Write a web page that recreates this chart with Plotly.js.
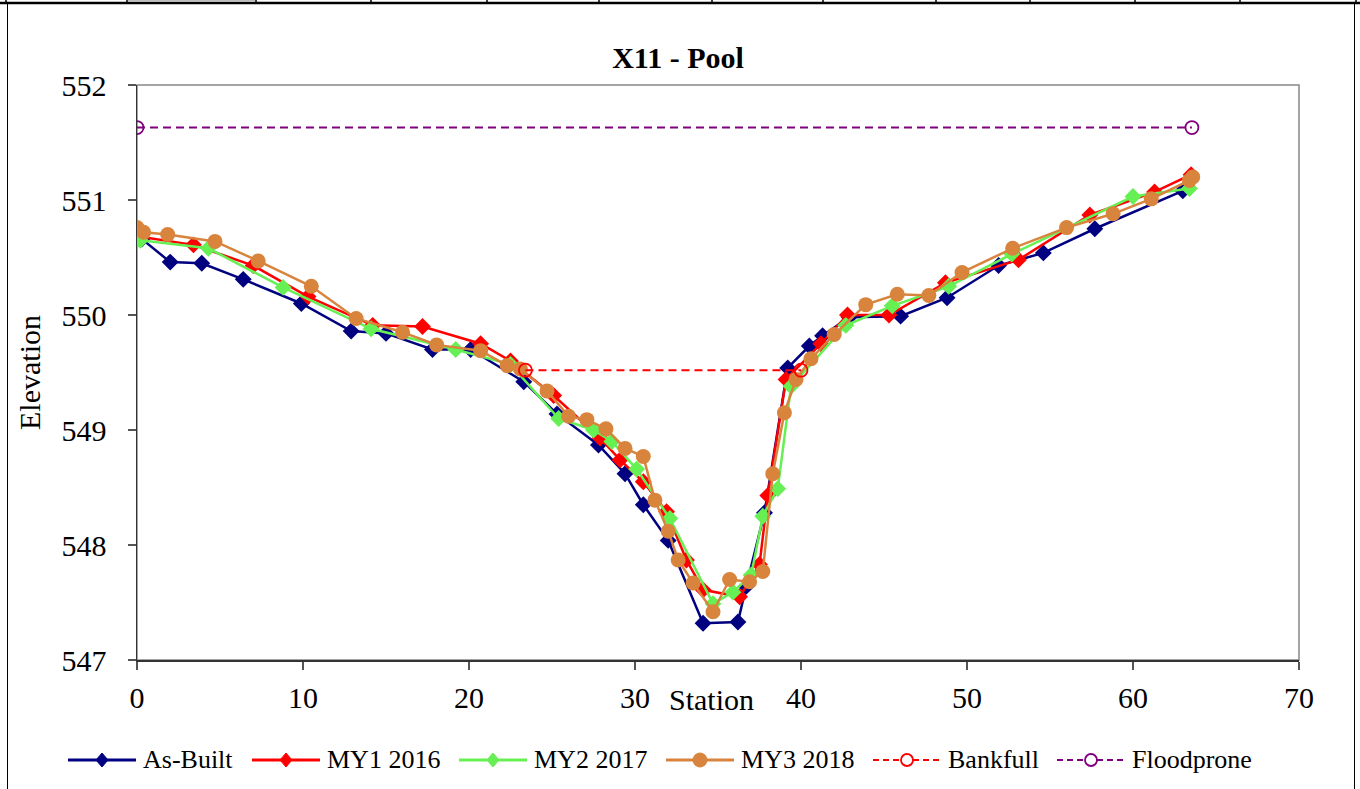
<!DOCTYPE html>
<html>
<head>
<meta charset="utf-8">
<script src="https://cdn.plot.ly/plotly-3.0.1.min.js"></script>
<style>
  html, body { margin: 0; padding: 0; background: #fff; }
  #wrap { position: relative; width: 1360px; height: 789px; overflow: hidden; background:#fff; }
  #chart { position: absolute; left: 0; top: 0; width: 1360px; height: 789px; }
</style>
</head>
<body>
<div id="wrap">
  <div id="chart"></div>
</div>
<script>
// Spreadsheet gridline positions along the top strip (decoration)
const cellDividers = [6, 127, 256, 371, 487, 599, 712, 823, 936, 1030, 1135, 1240, 1356];

// As-Built
const asBuiltX = [0.3, 2.0, 3.9, 6.4, 9.9, 12.9, 15.0, 17.8, 20.1, 23.3, 25.3, 27.8, 29.4, 30.5, 32.0, 34.1, 36.2, 36.7, 37.8, 39.2, 40.5, 41.3, 42.9, 46.0, 48.8, 51.9, 54.6, 57.7, 63.0];
const asBuiltY = [550.66, 550.46, 550.45, 550.31, 550.10, 549.86, 549.84, 549.70, 549.70, 549.42, 549.14, 548.87, 548.62, 548.35, 548.04, 547.32, 547.33, 547.64, 548.28, 549.54, 549.73, 549.82, 549.98, 549.99, 550.15, 550.43, 550.54, 550.75, 551.08];

// MY1 2016
const my1X = [0.2, 3.4, 7.0, 10.3, 14.2, 17.2, 20.7, 22.5, 25.1, 27.9, 29.1, 30.5, 31.9, 33.1, 34.1, 36.3, 37.5, 38.0, 39.1, 41.2, 42.8, 45.3, 48.7, 53.1, 57.4, 61.3, 63.5];
const my1Y = [550.68, 550.61, 550.43, 550.16, 549.91, 549.90, 549.75, 549.60, 549.30, 548.93, 548.74, 548.55, 548.29, 547.87, 547.61, 547.55, 547.83, 548.43, 549.44, 549.75, 550.00, 550.00, 550.28, 550.48, 550.87, 551.07, 551.22];

// MY2 2017
const my2X = [0.2, 4.3, 8.8, 14.1, 19.2, 22.5, 25.4, 27.5, 28.6, 30.1, 32.1, 34.7, 35.9, 37.0, 37.7, 38.6, 39.4, 42.7, 45.5, 48.9, 52.7, 60.0, 63.4];
const my2Y = [550.65, 550.58, 550.24, 549.88, 549.70, 549.57, 549.10, 549.00, 548.90, 548.66, 548.23, 547.49, 547.59, 547.74, 548.25, 548.49, 549.38, 549.91, 550.08, 550.25, 550.53, 551.03, 551.10];

// MY3 2018
const my3X = [0.0, 0.4, 1.85, 4.7, 7.3, 10.5, 13.2, 16.0, 18.05, 20.7, 22.3, 23.1, 24.7, 26.0, 27.1, 28.25, 29.4, 30.5, 31.2, 32.0, 32.6, 33.5, 34.7, 35.7, 36.9, 37.7, 38.3, 39.0, 39.7, 40.6, 42.0, 43.9, 45.8, 47.7, 49.7, 52.75, 56.0, 58.8, 61.1, 63.4, 63.6];
const my3Y = [550.76, 550.72, 550.70, 550.64, 550.47, 550.25, 549.97, 549.85, 549.74, 549.69, 549.56, 549.53, 549.34, 549.12, 549.09, 549.01, 548.84, 548.77, 548.39, 548.12, 547.87, 547.67, 547.42, 547.70, 547.68, 547.77, 548.62, 549.15, 549.44, 549.62, 549.83, 550.09, 550.18, 550.17, 550.37, 550.58, 550.76, 550.88, 551.01, 551.17, 551.20];

// Bankfull & Floodprone
const bankfullX = [23.4, 40.0];
const bankfullY = [549.52, 549.52];
const floodX = [0, 63.55];
const floodY = [551.63, 551.63];

// Axis ticks
const xTicks = [0, 10, 20, 30, 40, 50, 60, 70];
const yTicks = [547, 548, 549, 550, 551, 552];

// Series names
const seriesNames = ['As-Built', 'MY1 2016', 'MY2 2017', 'MY3 2018', 'Bankfull', 'Floodprone'];

const serif = "Liberation Serif, Times New Roman, serif";
const colors = ['#000080', '#FF0000', '#66F053', '#D8843C', '#FF0000', '#800080'];

// plot-area pixel geometry
const PL = 137, PR = 1299, PT = 85, PB = 660;
const px2x = px => (px - PL) / (PR - PL);
const px2y = py => (PB - py) / (PB - PT);

const traces = [
  {x: asBuiltX, y: asBuiltY, name: seriesNames[0], mode: 'lines+markers',
   line: {color: colors[0], width: 2.5}, marker: {symbol: 'diamond', size: 13, color: colors[0]}},
  {x: my1X, y: my1Y, name: seriesNames[1], mode: 'lines+markers',
   line: {color: colors[1], width: 2.5}, marker: {symbol: 'diamond', size: 13, color: colors[1]}},
  {x: my2X, y: my2Y, name: seriesNames[2], mode: 'lines+markers',
   line: {color: colors[2], width: 2.5}, marker: {symbol: 'diamond', size: 13, color: colors[2]}},
  {x: my3X, y: my3Y, name: seriesNames[3], mode: 'lines+markers',
   line: {color: colors[3], width: 2.5}, marker: {symbol: 'circle', size: 15, color: colors[3]}},
  {x: bankfullX, y: bankfullY, name: seriesNames[4], mode: 'lines+markers',
   line: {color: colors[4], width: 2, dash: '8px,5px'}, marker: {symbol: 'circle-open', size: 13, color: colors[4], line: {width: 1.8}}},
  {x: floodX, y: floodY, name: seriesNames[5], mode: 'lines+markers',
   line: {color: colors[5], width: 2, dash: '8px,5px'}, marker: {symbol: 'circle-open', size: 13, color: colors[5], line: {width: 1.8}}}
];

// ---- frame / decoration shapes (paper coords) ----
const shapes = [
  {type: 'rect', xref: 'paper', yref: 'paper', x0: 0, x1: 1, y0: 0, y1: 1, line: {color: '#888', width: 1.5}, layer: 'below'},
  {type: 'line', xref: 'paper', yref: 'paper', x0: px2x(0), x1: px2x(1360), y0: px2y(3), y1: px2y(3), line: {color: '#000', width: 2.5}},
  {type: 'rect', xref: 'paper', yref: 'paper', x0: px2x(128), x1: px2x(255), y0: px2y(0), y1: px2y(2), line: {width: 0}, fillcolor: '#bbb'},
  {type: 'line', xref: 'paper', yref: 'paper', x0: px2x(7.5), x1: px2x(7.5), y0: px2y(3), y1: px2y(789), line: {color: '#000', width: 1}},
  {type: 'line', xref: 'paper', yref: 'paper', x0: px2x(1354.5), x1: px2x(1354.5), y0: px2y(3), y1: px2y(789), line: {color: '#000', width: 1}}
];
cellDividers.forEach(d => shapes.push({type: 'line', xref: 'paper', yref: 'paper', x0: px2x(d), x1: px2x(d), y0: px2y(0), y1: px2y(4), line: {color: '#000', width: 1.5}}));

// ---- legend (drawn manually to match the original spacing) ----
const legendY = 760;
const legendLineStart = [68, 252, 459, 666, 873, 1057];
const legendLineLen = 68;
const annotations = [];
seriesNames.forEach((nm, i) => {
  const x0 = legendLineStart[i], x1 = x0 + legendLineLen, cx = (x0 + x1) / 2;
  const dashed = i >= 4;
  shapes.push({type: 'line', xref: 'paper', yref: 'paper', x0: px2x(x0), x1: px2x(x1), y0: px2y(legendY), y1: px2y(legendY),
               line: {color: colors[i], width: dashed ? 2 : 3, dash: dashed ? '6px,4px' : 'solid'}});
  const base = {xref: 'paper', yref: 'paper', xsizemode: 'pixel', ysizemode: 'pixel', xanchor: px2x(cx), yanchor: px2y(legendY)};
  if (i <= 2) {
    shapes.push(Object.assign({type: 'path', path: 'M0,7 L6,0 L0,-7 L-6,0 Z', fillcolor: colors[i], line: {color: colors[i], width: 1}}, base));
  } else if (i === 3) {
    shapes.push(Object.assign({type: 'circle', x0: -7, x1: 7, y0: -7, y1: 7, fillcolor: colors[i], line: {color: colors[i], width: 1}}, base));
  } else {
    shapes.push(Object.assign({type: 'circle', x0: -6, x1: 6, y0: -6, y1: 6, fillcolor: '#fff', line: {color: colors[i], width: 1.8}}, base));
  }
  annotations.push({text: nm, xref: 'paper', yref: 'paper', x: px2x(x1 + 6), y: px2y(legendY), xanchor: 'left', yanchor: 'middle',
                    showarrow: false, font: {family: serif, size: 26, color: '#000'}, borderpad: 0});
});
annotations.push({text: 'Station', xref: 'paper', yref: 'paper', x: px2x(711), y: px2y(699),
                  xanchor: 'center', yanchor: 'middle', showarrow: false, font: {family: serif, size: 30, color: '#000'}});

const layout = {
  width: 1360, height: 789,
  margin: {l: PL, r: 1360 - PR, t: PT, b: 789 - PB},
  paper_bgcolor: '#fff',
  plot_bgcolor: '#fff',
  font: {family: serif, color: '#000', size: 30},
  title: {text: '<b>X11 - Pool</b>', font: {family: serif, size: 30, color: '#000'},
          x: 678 / 1360, xref: 'container', xanchor: 'center', y: 1 - 57 / 789, yref: 'container', yanchor: 'middle'},
  xaxis: {range: [0, 70], tickvals: xTicks, ticktext: xTicks.map(String), showgrid: false, zeroline: false,
          showline: true, linecolor: '#333', linewidth: 1.5, ticks: 'outside', ticklen: 8, tickcolor: '#555', tickwidth: 1.2,
          ticklabelstandoff: 2, tickfont: {family: serif, size: 30}, fixedrange: true},
  yaxis: {range: [547, 552], tickvals: yTicks, ticktext: yTicks.map(String), showgrid: false, zeroline: false,
          showline: true, linecolor: '#333', linewidth: 1.5, ticks: 'outside', ticklen: 8, tickcolor: '#555', tickwidth: 1.2,
          ticklabelstandoff: 15, tickfont: {family: serif, size: 30},
          title: {text: 'Elevation', font: {family: serif, size: 30}, standoff: 12}, fixedrange: true},
  shapes: shapes,
  annotations: annotations,
  showlegend: false
};

Plotly.newPlot('chart', traces, layout, {displayModeBar: false, staticPlot: true});
</script>
</body>
</html>
